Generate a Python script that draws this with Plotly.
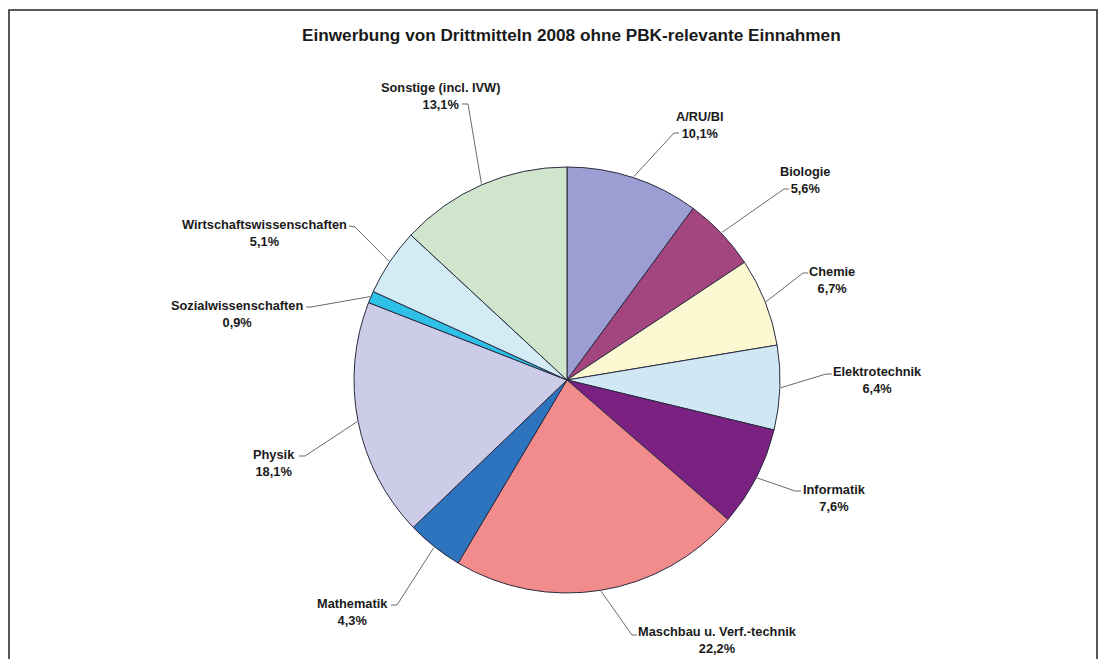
import math
import plotly.graph_objects as go

# Third-party funding 2008 by department (percent share)
departments = [
    "A/RU/BI", "Biologie", "Chemie", "Elektrotechnik", "Informatik",
    "Maschbau u. Verf.-technik", "Mathematik", "Physik",
    "Sozialwissenschaften", "Wirtschaftswissenschaften", "Sonstige (incl. IVW)",
]
shares = [10.1, 5.6, 6.7, 6.4, 7.6, 22.2, 4.3, 18.1, 0.9, 5.1, 13.1]
share_labels = ["10,1%", "5,6%", "6,7%", "6,4%", "7,6%", "22,2%",
                "4,3%", "18,1%", "0,9%", "5,1%", "13,1%"]
colors = ["#9c9dd3", "#a3457e", "#fbf8d2", "#cfe8f3", "#7b2182", "#f28b8b",
          "#2e73bd", "#cccbe8", "#2fc0e8", "#d2ebf5", "#cfe6cc"]

TITLE = "Einwerbung von Drittmitteln 2008 ohne PBK-relevante Einnahmen"

# canvas and pie geometry (pixels)
W, H = 1101, 659
CX, CY, R = 567, 380, 213


def px(x):
    return x / W


def py(y):
    return 1 - y / H


# label placement: (text centre x, text centre y, bend x, bend y, end x, end y)
label_layout = [
    (700, 125, 674, 133, 679, 133),
    (805, 180, 784, 189, 789, 189),
    (832, 280, 803, 273, 808, 273),
    (877, 380, 826, 374, 832, 374),
    (834, 498, 795, 491, 801, 491),
    (717, 640, 632, 635, 637, 635),
    (352, 612, 397, 605, 391, 605),
    (274, 463, 305, 456, 299, 456),
    (237, 314, 311, 307, 306, 307),
    (264, 233, 355, 227, 349, 226),
    (440, 96, 468, 104, 462, 104),
]

fig = go.Figure()
fig.add_trace(go.Pie(
    labels=departments,
    values=shares,
    sort=False,
    direction="clockwise",
    rotation=0,
    marker=dict(colors=colors, line=dict(color="#2b2b40", width=1)),
    textinfo="none",
    hoverinfo="label+percent",
    showlegend=False,
    domain=dict(x=[px(CX - R), px(CX + R)], y=[py(CY + R), py(CY - R)]),
))

total = sum(shares)
shapes = []
annotations = []
cum = 0.0
for name, val, txt, (lx, ly, bx, by, ex, ey) in zip(
        departments, shares, share_labels, label_layout):
    mid = (cum + val / 2) / total * 2 * math.pi
    cum += val
    sx = CX + (R + 1) * math.sin(mid)
    sy = CY - (R + 1) * math.cos(mid)
    shapes.append(dict(
        type="path", xref="paper", yref="paper",
        path=f"M {px(sx)},{py(sy)} L {px(bx)},{py(by)} L {px(ex)},{py(ey)}",
        line=dict(color="#6a6a6a", width=1),
    ))
    annotations.append(dict(
        x=px(lx), y=py(ly), xref="paper", yref="paper",
        xanchor="center", yanchor="middle", showarrow=False,
        text=f"<b>{name}</b><br><b>{txt}</b>",
        font=dict(family="Liberation Sans, Arial, sans-serif", size=12.8, color="#1a1a1a"),
        align="center",
    ))

# outer frame
shapes.append(dict(
    type="rect", xref="paper", yref="paper",
    x0=px(9), x1=px(1097), y0=-0.05, y1=py(10),
    line=dict(color="#222222", width=1.5), fillcolor="rgba(0,0,0,0)",
))

annotations.append(dict(
    x=px(571), y=py(35), xref="paper", yref="paper",
    xanchor="center", yanchor="middle", showarrow=False,
    text=f"<b>{TITLE}</b>",
    font=dict(family="Liberation Sans, Arial, sans-serif", size=17.2, color="#1a1a1a"),
))

fig.update_layout(
    width=W, height=H,
    margin=dict(l=0, r=0, t=0, b=0),
    paper_bgcolor="white", plot_bgcolor="white",
    shapes=shapes, annotations=annotations,
)

fig.write_html("out.html")
